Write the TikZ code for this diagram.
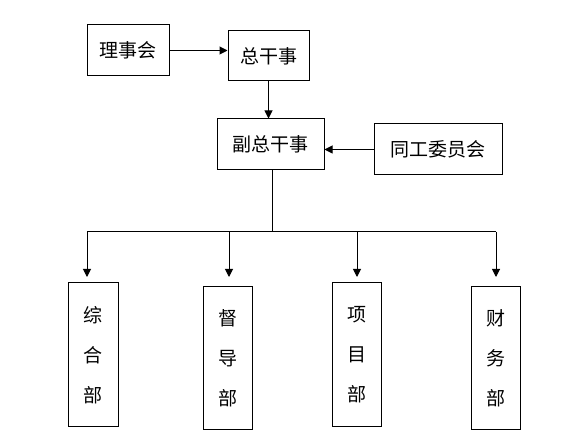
\documentclass[tikz,border=0pt]{standalone}
\usepackage{fontspec}
\setmainfont{Noto Sans CJK SC}
\usetikzlibrary{arrows.meta}
\begin{document}
\begin{tikzpicture}[x=1pt,y=-1pt,
  box/.style={draw,line width=1pt,rectangle,inner sep=0pt,anchor=center,
    font=\fontsize{19}{19}\selectfont},
  vbox/.style={box,align=center,font=\fontsize{19}{40}\selectfont},
  conn/.style={line width=1pt},
  arr/.style={conn,-{Triangle[length=8pt,width=8pt]}}]
\useasboundingbox (0,0) rectangle (573,435);
\node[box,minimum width=82pt,minimum height=51pt] (lsh) at (128,50.5) {理事会};
\node[box,minimum width=81pt,minimum height=50pt] (zgs) at (268.5,56) {总干事};
\node[box,minimum width=107pt,minimum height=51pt] (fzgs) at (270.5,144.5) {副总干事};
\node[box,minimum width=128pt,minimum height=51pt] (tgwyh) at (438,149.5) {同工委员会};
\node[vbox,minimum width=50pt,minimum height=144pt] (zhb) at (93,355) {综\\合\\部};
\node[vbox,minimum width=49pt,minimum height=143pt] (ddb) at (227.5,358.5) {督\\导\\部};
\node[vbox,minimum width=49pt,minimum height=144pt] (xmb) at (356.5,355) {项\\目\\部};
\node[vbox,minimum width=49pt,minimum height=143pt] (cwb) at (495.5,358.5) {财\\务\\部};
\draw[arr] (lsh.east) -- (lsh.east -| zgs.west);
\draw[arr] (zgs.south) -- (zgs.south |- fzgs.north);
\draw[arr] (tgwyh.west) -- (tgwyh.west -| fzgs.east);
\coordinate (j) at (272,232);
\coordinate (l) at (87,232);
\coordinate (r) at (496,232);
\coordinate (t1) at (87,277);
\coordinate (t2) at (229,277);
\coordinate (t3) at (357,277);
\coordinate (t4) at (496,277);
\draw[conn] (j |- fzgs.south) -- (j);
\draw[conn] (l) -- (r);
\draw[arr] (l) -- (t1);
\draw[arr] (t2 |- l) -- (t2);
\draw[arr] (t3 |- l) -- (t3);
\draw[arr] (r) -- (t4);
\end{tikzpicture}
\end{document}
